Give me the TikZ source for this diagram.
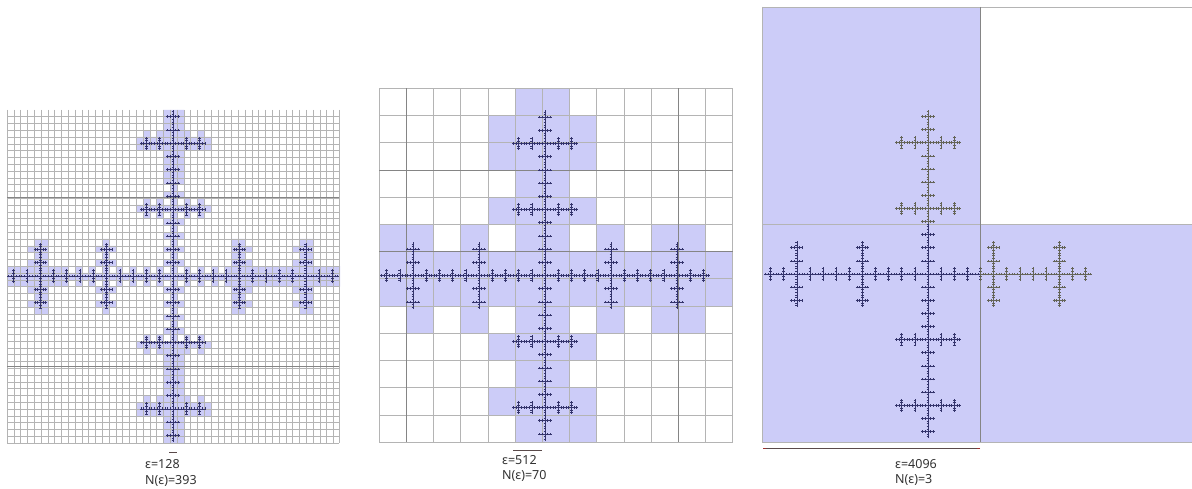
\documentclass[tikz,border=0pt]{standalone}
\usepackage{fontspec}
\setmainfont{Noto Sans}
\definecolor{boxblue}{HTML}{CCCCF8}
\definecolor{frnavy}{HTML}{34346C}
\definecolor{frolive}{HTML}{646458}
\definecolor{gridgray}{HTML}{B4B4B4}
\definecolor{griddark}{HTML}{858585}
\definecolor{ruler}{HTML}{5A4A4A}
\definecolor{rulertip}{HTML}{A03030}
\tikzset{
  boxfill/.style={fill=boxblue,draw=none},
  gridline/.style={draw=gridgray,line width=.6pt},
  finegrid/.style={draw=gridgray,line width=.4pt},
  gridstrong/.style={draw=griddark,line width=.6pt},
  frnavystyle/.style={color=frnavy,line width=.6pt},
  frolivestyle/.style={color=frolive,line width=.6pt},
  rulerline/.style={draw=ruler,line width=.6pt},
  caption/.style={font=\fontsize{12.5}{14}\selectfont,color=black!80,anchor=base west,inner sep=0pt},
}
\def\FrCh#1#2#3#4{\edef\FrTmp{\noexpand\FrC{\the\dimexpr#1\relax}{\the\dimexpr#2\relax}{\the\dimexpr#3\relax}{\the\numexpr#4\relax}}\FrTmp}
\def\FrC#1#2#3#4{%
  \pgfpathmoveto{\pgfqpoint{\dimexpr#1-#3\relax}{#2}}%
  \pgfpathlineto{\pgfqpoint{\dimexpr#1+#3\relax}{#2}}%
  \pgfpathmoveto{\pgfqpoint{#1}{\dimexpr#2-#3\relax}}%
  \pgfpathlineto{\pgfqpoint{#1}{\dimexpr#2+#3\relax}}%
  \ifnum#4>0
    \FrCh{#1}{#2}{#3/5}{#4-1}%
    \FrCh{#1-#3*2/5}{#2}{#3/5}{#4-1}%
    \FrCh{#1+#3*2/5}{#2}{#3/5}{#4-1}%
    \FrCh{#1-#3*4/5}{#2}{#3/5}{#4-1}%
    \FrCh{#1+#3*4/5}{#2}{#3/5}{#4-1}%
    \FrCh{#1}{#2-#3*2/5}{#3/5}{#4-1}%
    \FrCh{#1}{#2+#3*2/5}{#3/5}{#4-1}%
    \FrCh{#1}{#2-#3*4/5}{#3/5}{#4-1}%
    \FrCh{#1}{#2+#3*4/5}{#3/5}{#4-1}%
  \fi}
\newdimen\MkX \newdimen\MkY \newdimen\MkS
\MkX=7pt \MkY=-443pt \MkS=6.8pt
\def\MkP#1#2{\expandafter\gdef\csname Mk:\the\numexpr(\dimexpr#1-\MkX-\MkS/2\relax)/\MkS\relax:\the\numexpr(\dimexpr#2-\MkY-\MkS/2\relax)/\MkS\relax\endcsname{}}
\def\MkCh#1#2#3#4{\edef\MkTmp{\noexpand\MkC{\the\dimexpr#1\relax}{\the\dimexpr#2\relax}{\the\dimexpr#3\relax}{\the\numexpr#4\relax}}\MkTmp}
\def\MkC#1#2#3#4{%
  \ifnum#4>0
    \MkCh{#1}{#2}{#3/5}{#4-1}%
    \MkCh{#1-#3*2/5}{#2}{#3/5}{#4-1}%
    \MkCh{#1+#3*2/5}{#2}{#3/5}{#4-1}%
    \MkCh{#1-#3*4/5}{#2}{#3/5}{#4-1}%
    \MkCh{#1+#3*4/5}{#2}{#3/5}{#4-1}%
    \MkCh{#1}{#2-#3*2/5}{#3/5}{#4-1}%
    \MkCh{#1}{#2+#3*2/5}{#3/5}{#4-1}%
    \MkCh{#1}{#2-#3*4/5}{#3/5}{#4-1}%
    \MkCh{#1}{#2+#3*4/5}{#3/5}{#4-1}%
  \else
    \MkP{#1}{#2}\MkP{#1-#3}{#2}\MkP{#1+#3}{#2}\MkP{#1}{#2-#3}\MkP{#1}{#2+#3}%
  \fi}
\MkC{173pt}{-276pt}{166pt}{3}
\newcount\CI \newcount\CJ
\def\CellInner{\ifnum\CJ<49
  \ifcsname Mk:\the\CI:\the\CJ\endcsname
    \pgfpathrectangle{\pgfqpoint{\dimexpr7pt+6.8pt*\CI\relax}{\dimexpr-443pt+6.8pt*\CJ\relax}}{\pgfqpoint{6.8pt}{6.8pt}}%
  \fi
  \advance\CJ 1 \expandafter\CellInner\fi}
\def\CellLoop{\ifnum\CI<49 \CJ=0 \CellInner \advance\CI 1 \expandafter\CellLoop\fi}
\begin{document}
\begin{tikzpicture}[x=1pt,y=-1pt]
\useasboundingbox (0,0) rectangle (1192,489);
\fill[white] (0,0) rectangle (1192,489);
% ---- panel 1
\begin{scope}[color=boxblue]
\CI=0 \CellLoop \pgfusepath{fill}
\end{scope}
\foreach \k in {0,...,48}{\draw[finegrid] ({7+6.8*\k},110) -- ({7+6.8*\k},443);}
\draw[finegrid] (339,110) -- (339,443);
\foreach \k in {0,...,48}{\draw[finegrid] (7,{443-6.8*\k}) -- (339,{443-6.8*\k});}
\draw[gridstrong,line width=.5pt] (7,197.2) -- (339,197.2) (7,365.8) -- (339,365.8);
\begin{scope}[frnavystyle]
\FrC{173pt}{-276pt}{166pt}{3}\pgfusepath{stroke}
\end{scope}
% ---- panel 2
\foreach \r/\cols in {0/{5,6},1/{4,5,6,7},2/{4,5,6,7},3/{5,6},4/{4,5,6,7},5/{0,1,3,5,6,8,10,11},
  6/{0,...,12},7/{0,...,12},8/{1,3,5,6,8,10,11},9/{4,5,6,7},10/{5,6},11/{4,5,6,7},12/{5,6,7}}{%
  \foreach \c in \cols {\fill[boxfill] ({379+27.2*\c},{88.4+27.2*\r}) rectangle ++(27.2,27.2);}}
\foreach \k in {0,...,13}{\draw[gridline] ({379+27.2*\k},88.4) -- ({379+27.2*\k},442);}
\foreach \k in {0,...,13}{\draw[gridline] (379,{88.4+27.2*\k}) -- (732.6,{88.4+27.2*\k});}
\draw[gridstrong] (406.2,88.4) -- (406.2,442) (678.2,88.4) -- (678.2,442);
\draw[gridstrong] (379,169.9) -- (732.6,169.9) (379,251.5) -- (732.6,251.5);
\begin{scope}[frnavystyle]
\FrC{545pt}{-275.5pt}{165pt}{3}\pgfusepath{stroke}
\end{scope}
% ---- panel 3
\fill[boxfill] (762,7) rectangle (980,224);
\fill[boxfill] (762,224) rectangle (1192,442);
\draw[gridline] (762,7) -- (1192,7) (762,224) -- (1192,224);
\draw[gridline] (762,7) -- (762,442) (762,442) -- (1192,442);
\draw[gridstrong] (980,7) -- (980,442);
\begin{scope}
\clip (762,224) rectangle (980,442);
\begin{scope}[frnavystyle]
\FrC{928pt}{-274pt}{164pt}{3}\pgfusepath{stroke}
\end{scope}
\end{scope}
\begin{scope}
\clip (762,7) rectangle (980,224) (980,7) rectangle (1192,442);
\begin{scope}[frolivestyle]
\FrC{928pt}{-274pt}{164pt}{3}\pgfusepath{stroke}
\end{scope}
\end{scope}
% ---- rulers and captions
\coordinate (r1a) at (169,452); \coordinate (r1b) at (177,452);
\coordinate (r2a) at (513,450); \coordinate (r2b) at (542,450);
\coordinate (r3a) at (763,448); \coordinate (r3b) at (980,448);
\draw[rulerline] (r1a) -- (r1b);
\draw[rulerline] (r2a) -- (r2b);
\draw[rulerline,line width=.9pt] (r3a) -- (r3b);
\draw[rulertip,line width=.9pt] (r3a) -- ++(3,0);
\draw[rulertip,line width=.9pt] (r3b) -- ++(-3,0);
\node[caption] (e1) at (145,468) {ε=128};
\node[caption] (n1) at (145,484) {N(ε)=393};
\node[caption] (e2) at (502,464) {ε=512};
\node[caption] (n2) at (502,479) {N(ε)=70};
\node[caption] (e3) at (895,468) {ε=4096};
\node[caption] (n3) at (895,483) {N(ε)=3};
\end{tikzpicture}
\end{document}
